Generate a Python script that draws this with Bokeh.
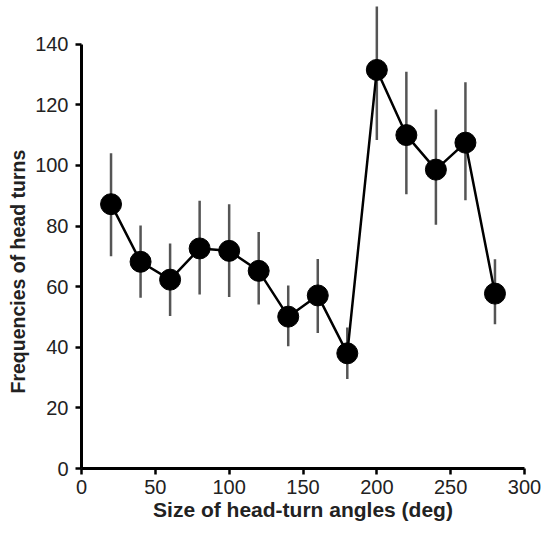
from bokeh.plotting import figure
from bokeh.models import ColumnDataSource, Range1d, FixedTicker, Title
from bokeh.embed import file_html
from bokeh.resources import INLINE

angles = [20, 40, 60, 80, 100, 120, 140, 160, 180, 200, 220, 240, 260, 280]
freq = [87.2, 68.2, 62.3, 72.6, 71.8, 65.2, 50.1, 57.1, 38.0, 131.5, 110.0, 98.6, 107.5, 57.7]
err_hi = [104.0, 80.2, 74.2, 88.3, 87.2, 78.0, 60.4, 69.1, 46.5, 152.4, 130.9, 118.4, 127.4, 69.0]
err_lo = [70.0, 56.3, 50.3, 57.4, 56.6, 54.1, 40.3, 44.7, 29.5, 108.4, 90.5, 80.4, 88.5, 47.6]
x_ticks = [0, 50, 100, 150, 200, 250, 300]
y_ticks = [0, 20, 40, 60, 80, 100, 120, 140]
x_title = "Size of head-turn angles (deg)"
y_title = "Frequencies of head turns"

src = ColumnDataSource(dict(x=angles, y=freq, hi=err_hi, lo=err_lo))

p = figure(width=541, height=526, output_backend="svg", toolbar_location=None,
           x_range=Range1d(0, 300), y_range=Range1d(0, 154.4),
           min_border_left=81, min_border_right=17, min_border_top=0, min_border_bottom=58)
p.outline_line_color = None
p.xgrid.visible = False
p.ygrid.visible = False

p.segment(x0="x", y0="lo", x1="x", y1="hi", source=src, line_color="#555555", line_width=2.5)
p.line(x="x", y="y", source=src, line_color="black", line_width=2.5)
p.scatter(x="x", y="y", source=src, size=21, fill_color="black", line_color="black")

font = "Liberation Sans"
for ax, ticks, bounds in ((p.xaxis, x_ticks, (0, 300)), (p.yaxis, y_ticks, (0, 140))):
    ax.ticker = FixedTicker(ticks=ticks)
    ax.bounds = bounds
    ax.axis_line_width = 3
    ax.axis_line_color = "black"
    ax.major_tick_line_width = 2.5
    ax.major_tick_line_color = "black"
    ax.major_tick_out = 6
    ax.major_tick_in = 0
    ax.minor_tick_line_color = None
    ax.major_label_text_font = font
    ax.major_label_text_font_size = "20px"
    ax.major_label_text_color = "#222222"

p.xaxis.axis_label = x_title
p.xaxis.axis_label_text_font = font
p.xaxis.axis_label_text_font_size = "21px"
p.xaxis.axis_label_text_font_style = "bold"
p.xaxis.axis_label_text_color = "#222222"
p.xaxis.major_label_standoff = 5
p.xaxis.axis_label_standoff = 1
p.yaxis.major_label_standoff = 7

ytitle = Title(text=y_title, align="left", offset=75, text_font=font,
               text_font_size="19.5px", text_font_style="bold", text_color="#222222",
               standoff=7)
p.add_layout(ytitle, "left")

open("out.html", "w").write(file_html(p, INLINE))
